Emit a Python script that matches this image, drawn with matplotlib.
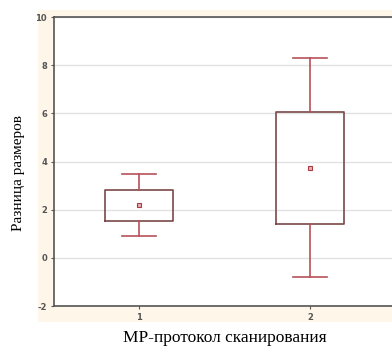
import matplotlib.pyplot as plt
from matplotlib.patches import Rectangle

plt.rcParams['axes.unicode_minus'] = False

# data
groups = [1, 2]
means = [2.2, 3.73]
box_low = [1.53, 1.41]
box_high = [2.82, 6.06]
whisk_low = [0.91, -0.79]
whisk_high = [3.5, 8.3]
yticks = [-2, 0, 2, 4, 6, 8, 10]

fig = plt.figure(figsize=(3.92, 3.47), dpi=100)
fig.patches.append(Rectangle((0.097, 0.072), 0.91, 0.899, transform=fig.transFigure,
                             facecolor='#fdf6e9', edgecolor='none', zorder=-1))
ax = fig.add_axes([0.138, 0.118, 0.870, 0.833], zorder=2)

stats = []
for i in range(len(groups)):
    stats.append({'med': means[i], 'mean': means[i], 'q1': box_low[i], 'q3': box_high[i],
                  'whislo': whisk_low[i], 'whishi': whisk_high[i], 'fliers': []})

ax.bxp(stats, positions=groups, widths=0.4, showmeans=True, showfliers=False,
       boxprops=dict(color='#7a4848', linewidth=1.2),
       whiskerprops=dict(color='#b8505a', linewidth=1.2),
       capprops=dict(color='#b8505a', linewidth=1.2),
       medianprops=dict(linewidth=0),
       meanprops=dict(marker='s', markersize=3, markerfacecolor='#e8b0b0',
                      markeredgecolor='#a83c44', markeredgewidth=0.8))

ax.set_xlim(0.5, 2.5)
ax.set_ylim(-2, 10)
ax.set_yticks(yticks)
ax.set_xticks(groups)
ax.set_xticklabels([str(g) for g in groups])
ax.yaxis.grid(True, color='#e2e2e2', linewidth=1)
ax.set_axisbelow(True)
ax.tick_params(labelsize=6, colors='#555555', length=2, width=0.8, pad=3)
for lab in ax.get_xticklabels() + ax.get_yticklabels():
    lab.set_fontweight('bold')
for s in ax.spines.values():
    s.set_color('#555555')
    s.set_linewidth(1.2)

ax.set_ylabel('Разница размеров', fontfamily='Liberation Serif', fontsize=11)
ax.set_xlabel('МР-протокол сканирования', fontfamily='Liberation Serif', fontsize=12.5)
ax.yaxis.set_label_coords(-0.103, 0.46)
ax.yaxis.label.set_va('center')
ax.xaxis.set_label_coords(0.5, -0.111)
ax.xaxis.label.set_va('center')

fig.savefig('out.png', dpi=100)
